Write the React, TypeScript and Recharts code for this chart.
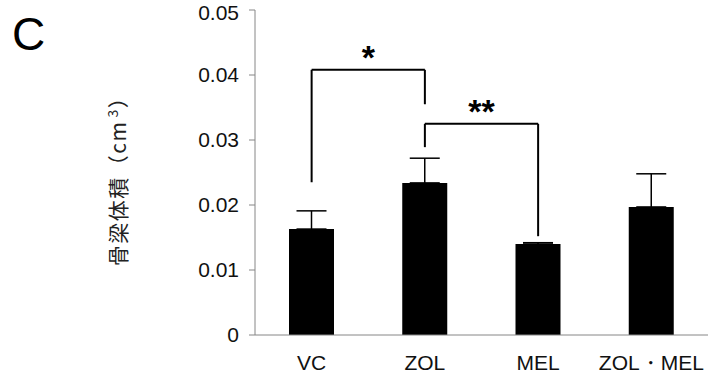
import { Bar, BarChart, ErrorBar, ReferenceLine, XAxis, YAxis } from 'recharts';

const groups = ['VC', 'ZOL', 'MEL', 'ZOL・MEL'];
const volumes = [0.0163, 0.0234, 0.014, 0.0197];
const errors = [0.0028, 0.0038, 0.0002, 0.0051];
const yTicks = [0, 0.01, 0.02, 0.03, 0.04, 0.05];

// significance brackets: [from, to, top, leftLegEnd, rightLegEnd, mark]
const brackets: [string, string, number, number, number, string][] = [
  ['VC', 'ZOL', 0.0408, 0.0235, 0.0355, '*'],
  ['ZOL', 'MEL', 0.0325, 0.0289, 0.0152, '**'],
];

const data = groups.map((g, i) => ({ group: g, vol: volumes[i], err: [0, errors[i]] }));

const FONT = '"Liberation Sans", Arial, sans-serif';
const AXIS = '#868686';

const renderYLabel = () => (
  <text
    x={0}
    y={0}
    transform="translate(126,176) rotate(-90)"
    textAnchor="middle"
    fontSize={21}
    letterSpacing={1.5}
    fill="#222"
    fontFamily={'"Noto Sans CJK JP", sans-serif'}
  >
    骨梁体積（cm
    <tspan fontSize={14} dy={-8} dx={3}>3</tspan>
    <tspan dy={8}>）</tspan>
  </text>
);

export default function App() {
  return (
    <div style={{ position: 'absolute', left: 0, top: 0, width: 711, height: 385, background: '#fff' }}>
      <div style={{ position: 'absolute', left: 12, top: 9, fontSize: 46, fontFamily: FONT, lineHeight: '50px' }}>C</div>
      <BarChart width={711} height={385} data={data} margin={{ top: 10, right: 3, bottom: 0, left: 0 }}>
        <XAxis
          xAxisId="t"
          type="number"
          domain={[0, 4]}
          ticks={[0, 1, 2, 3, 4]}
          tick={false}
          axisLine={false}
          tickLine={{ stroke: AXIS, strokeWidth: 1 }}
          tickSize={6}
          height={0}
        />
        <XAxis
          xAxisId="c"
          dataKey="group"
          height={50}
          axisLine={{ stroke: AXIS, strokeWidth: 1 }}
          tickLine={false}
          tickMargin={14}
          tick={{ fill: '#111', fontSize: 21, fontFamily: FONT }}
          interval={0}
        />
        <YAxis
          width={255}
          domain={[0, 0.05]}
          ticks={yTicks}
          tickFormatter={(v: number) => String(v)}
          axisLine={{ stroke: AXIS, strokeWidth: 1 }}
          tickLine={{ stroke: AXIS, strokeWidth: 1 }}
          tickSize={6}
          tickMargin={10}
          tick={{ fill: '#111', fontSize: 21, fontFamily: FONT }}
          label={{ content: renderYLabel }}
        />
        <Bar xAxisId="c" dataKey="vol" fill="#000" barSize={45} isAnimationActive={false}>
          <ErrorBar dataKey="err" width={15} stroke="#000" strokeWidth={1.5} direction="y" />
        </Bar>
        {brackets.map(([a, b, top, la, lb, mark]) => [
          <ReferenceLine
            key={a + 'h'}
            xAxisId="c"
            segment={[{ x: a, y: top }, { x: b, y: top }]}
            stroke="#000"
            strokeWidth={2}
            label={{ value: mark, position: 'top', offset: 1, fontSize: 34, fontWeight: 'bold', fill: '#000', fontFamily: FONT }}
          />,
          <ReferenceLine key={a + 'l'} xAxisId="c" segment={[{ x: a, y: la }, { x: a, y: top }]} stroke="#000" strokeWidth={2} />,
          <ReferenceLine key={a + 'r'} xAxisId="c" segment={[{ x: b, y: lb }, { x: b, y: top }]} stroke="#000" strokeWidth={2} />,
        ])}
      </BarChart>
    </div>
  );
}
